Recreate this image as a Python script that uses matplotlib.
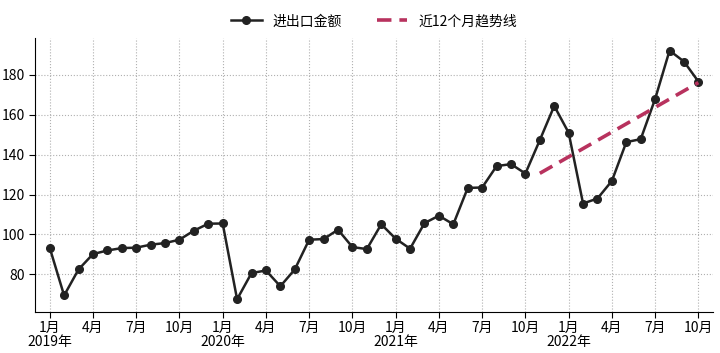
import numpy as np
import matplotlib
matplotlib.use("Agg")
import matplotlib.pyplot as plt

plt.rcParams['font.family'] = ['Noto Sans CJK SC', 'DejaVu Sans']
plt.rcParams['axes.unicode_minus'] = False

# 月度进出口金额 2019-01 .. 2022-10
months = [f"{y}-{m:02d}" for y in (2019, 2020, 2021, 2022) for m in range(1, 13)][:46]
values = [93.4, 69.5, 82.5, 90.2, 92.0, 93.2, 93.4, 94.9, 95.7, 97.4, 101.9, 105.4,
          105.5, 67.6, 80.7, 82.0, 74.1, 82.5, 97.4, 97.7, 102.4, 93.7, 92.7, 105.1,
          97.9, 92.9, 105.7, 109.4, 105.1, 123.3, 123.5, 134.2, 135.2, 130.5, 147.2, 164.3,
          150.9, 115.5, 118.0, 126.8, 146.2, 147.7, 167.8, 192.0, 186.5, 176.5]

tick_pos = list(range(0, 46, 3))
tick_labels = []
for p in tick_pos:
    y, m = months[p].split("-")
    m = int(m)
    tick_labels.append(f"{m}月\n{y}年" if m == 1 else f"{m}月")

x = np.arange(len(values))
vals = np.array(values)

# 近12个月线性趋势
x12 = x[-12:]
k, b = np.polyfit(x12, vals[-12:], 1)
trend = k * x12 + b

fig = plt.figure(figsize=(7.2, 3.53), dpi=100)
ax = fig.add_axes([0.049, 0.117, 0.941, 0.775])

ax.plot(x, vals, color="#222222", lw=1.8, marker="o", ms=5.5, label="进出口金额", zorder=3)
ax.plot(x12, trend, color="#b8325e", lw=2.6, ls=(0, (4, 2.2)), label="近12个月趋势线", zorder=4)

ax.set_xticks(tick_pos)
ax.set_xticklabels(tick_labels, fontsize=10, linespacing=1.05)
ax.set_xlim(-1, 46)
ax.set_yticks([80, 100, 120, 140, 160, 180])
ax.tick_params(labelsize=10, length=4)
ax.tick_params(axis="x", pad=2.5)
ax.grid(ls=":", lw=0.8, color="#b0b0b0")
ax.set_axisbelow(True)
for s in ("top", "right"):
    ax.spines[s].set_visible(False)

ax.legend(loc="lower center", bbox_to_anchor=(0.5, 0.99), ncol=2, frameon=False,
          fontsize=10, columnspacing=2.5, handlelength=2.2)

plt.savefig("out.png", dpi=100)
